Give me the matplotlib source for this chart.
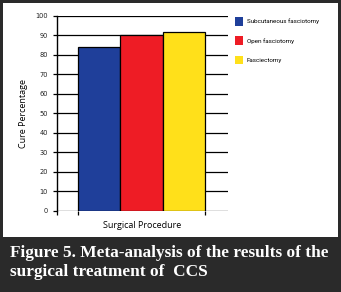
import matplotlib
matplotlib.use("Agg")
import matplotlib.pyplot as plt
from matplotlib.patches import Rectangle

categories = ["Subcutaneous fasciotomy", "Open fasciotomy", "Fasciectomy"]
values = [84, 90, 92]
colors = ["#1f3f9a", "#ee1c25", "#ffe01a"]
yticks = [0, 10, 20, 30, 40, 50, 60, 70, 80, 90, 100]
caption_line1 = "Figure 5. Meta-analysis of the results of the"
caption_line2 = "surgical treatment of  CCS"

W, H = 341, 292
fig = plt.figure(figsize=(W / 100, H / 100), dpi=100)
fig.patch.set_facecolor("#2a2a2a")

# white panel
fig.add_artist(Rectangle((3 / W, 1 - 236.5 / H), (338 - 3) / W, (236.5 - 2.5) / H,
                         transform=fig.transFigure, facecolor="white", edgecolor="none", zorder=0))

ax = fig.add_axes([57 / W, 1 - 210.7 / H, (228 - 57) / W, (210.7 - 16) / H])
ax.set_facecolor("none")
x = list(range(len(values)))
for i in x:
    ax.bar(i, values[i], width=1.0, color=colors[i], edgecolor="black", linewidth=0.9, zorder=3,
           label=categories[i])
ax.set_xlim(-0.996, 3.044)
ax.set_ylim(0, 100)
ax.set_yticks(yticks)
ax.set_yticklabels([str(t) for t in yticks], fontsize=4.8, color="#222222")
ax.yaxis.grid(True, color="black", linewidth=0.9, zorder=1)
ax.set_axisbelow(True)
ax.tick_params(axis="y", length=3, width=0.9, pad=3.5, color="black")
ax.set_xticks([-0.996, -0.5, 2.5])
ax.set_xticklabels([])
ax.tick_params(axis="x", length=3, width=0.9, color="black")
for s in ["top", "right", "bottom"]:
    ax.spines[s].set_visible(False)
ax.spines["left"].set_linewidth(1.0)
ax.set_ylabel("Cure Percentage", fontsize=6.5, family="Open Sans", labelpad=5)
ax.set_xlabel("Surgical Procedure", fontsize=6.5, family="Open Sans", labelpad=1)

leg = ax.legend(loc="upper left", bbox_to_anchor=(1.025, 1.008), frameon=False,
                prop={"family": "Roboto", "size": 4.5},
                handlelength=1.35, handleheight=1.75, handletextpad=0.6, labelspacing=1.72,
                borderaxespad=0)
for h in leg.legend_handles:
    h.set_edgecolor("none")

fig.text(10 / W, 1 - 253 / H, caption_line1, color="white", fontsize=12.4, fontweight="bold",
         family="Liberation Serif", va="center", ha="left")
fig.text(10 / W, 1 - 272 / H, caption_line2, color="white", fontsize=12.4, fontweight="bold",
         family="Liberation Serif", va="center", ha="left")

fig.savefig("out.png", dpi=100, facecolor=fig.get_facecolor())
